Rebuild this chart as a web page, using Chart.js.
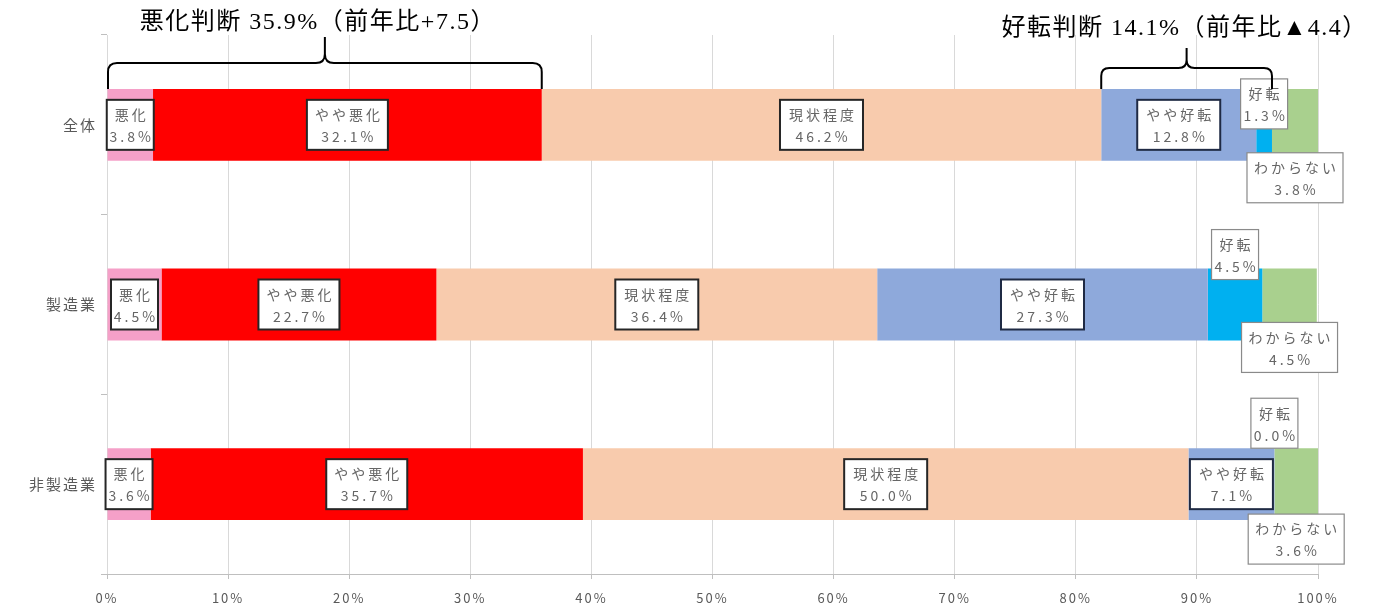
<!DOCTYPE html>
<html>
<head>
<meta charset="utf-8">
<script src="https://cdn.jsdelivr.net/npm/chart.js@4"></script>
<style>
body{margin:0;background:#fff}
#wrap{width:1381px;height:611px;position:relative}
</style>
</head>
<body>
<div id="wrap"><canvas id="chart"></canvas></div>
<script>
const categories=["全体","製造業","非製造業"]
const seriesNames=["悪化","やや悪化","現状程度","やや好転","好転","わからない"]
const akka=[3.8,4.5,3.6]
const yayaAkka=[32.1,22.7,35.7]
const genjo=[46.2,36.4,50.0]
const yayaKoten=[12.8,27.3,7.1]
const koten=[1.3,4.5,0.0]
const wakaranai=[3.8,4.5,3.6]
const xTickValues=[0,10,20,30,40,50,60,70,80,90,100]
const bracketTexts=["悪化判断 35.9%（前年比+7.5）","好転判断 14.1%（前年比▲4.4）"]

const series=[akka,yayaAkka,genjo,yayaKoten,koten,wakaranai]
const colors=["#F5A0C8","#FF0000","#F8CBAD","#8EA9DB","#00B0F0","#A9D08E"]

/* label box styles */
const boxW=[47,81,83,83,47,96]
const boxH=50
const boxBorder=["#262626","#262626","#262626","#1f2a44","#8a8a8a","#8a8a8a"]
const kotenOff=[15,-14,-25]
const wakaOff=[17,7,19]

const spacing={
id:"spacing",
beforeDraw(c){c.ctx.letterSpacing="2px"},
afterDraw(c){c.ctx.letterSpacing="0px"}
}

const boxLabels={
id:"boxLabels",
afterDatasetsDraw(c){
const ctx=c.ctx
ctx.save()
ctx.letterSpacing="3px"
ctx.font='14px "Noto Sans CJK JP"'
ctx.textAlign="center"
ctx.textBaseline="middle"
series.forEach((vals,i)=>{
const meta=c.getDatasetMeta(i)
meta.data.forEach((bar,j)=>{
const cx=(bar.x+bar.base)/2
let cy=bar.y
const top=bar.y-bar.height/2
const bottom=bar.y+bar.height/2
if(i===4) cy=top+kotenOff[j]
if(i===5) cy=bottom+wakaOff[j]
const w=boxW[i]
ctx.fillStyle="#fff"
ctx.fillRect(cx-w/2,cy-boxH/2,w,boxH)
ctx.strokeStyle=boxBorder[i]
ctx.lineWidth=i<4?2:1.2
ctx.strokeRect(cx-w/2,cy-boxH/2,w,boxH)
ctx.fillStyle="#666"
ctx.fillText(seriesNames[i],cx+1.5,cy-10)
ctx.fillText(vals[j].toFixed(1)+"%",cx+1.5,cy+12)
})
})
ctx.restore()
}
}

function brace(ctx,x1,x2,yEnd,yLine,yTip,r){
const xm=(x1+x2)/2
ctx.beginPath()
ctx.moveTo(x1,yEnd)
ctx.lineTo(x1,yLine+r)
ctx.quadraticCurveTo(x1,yLine,x1+r,yLine)
ctx.lineTo(xm-r,yLine)
ctx.quadraticCurveTo(xm,yLine,xm,yLine-r)
ctx.lineTo(xm,yTip)
ctx.moveTo(xm,yLine-r)
ctx.quadraticCurveTo(xm,yLine,xm+r,yLine)
ctx.lineTo(x2-r,yLine)
ctx.quadraticCurveTo(x2,yLine,x2,yLine+r)
ctx.lineTo(x2,yEnd)
ctx.stroke()
}

const braces={
id:"braces",
afterDraw(c){
const ctx=c.ctx
const x=c.scales.x
const badEnd=akka[0]+yayaAkka[0]
const goodStart=badEnd+genjo[0]
const goodEnd=goodStart+yayaKoten[0]+koten[0]
ctx.save()
ctx.strokeStyle="#000"
ctx.lineWidth=2
const a1=x.getPixelForValue(0)+1,a2=x.getPixelForValue(badEnd)
const b1=x.getPixelForValue(goodStart),b2=x.getPixelForValue(goodEnd)
brace(ctx,a1,a2,89,63,37,9)
brace(ctx,b1,b2,89,68,48,8)
ctx.fillStyle="#000"
ctx.letterSpacing="1.5px"
ctx.font='24px "Liberation Serif","Noto Sans CJK JP"'
ctx.textAlign="center"
ctx.textBaseline="middle"
ctx.fillText(bracketTexts[0],(a1+a2)/2-7,23)
ctx.fillText(bracketTexts[1],(b1+b2)/2-2,29)
ctx.restore()
}
}

new Chart(document.getElementById("chart"),{
type:"bar",
data:{
labels:categories,
datasets:series.map((vals,i)=>({
label:seriesNames[i],
data:vals,
backgroundColor:colors[i],
borderWidth:0,
barPercentage:0.4,
categoryPercentage:1
}))
},
options:{
indexAxis:"y",
responsive:true,
maintainAspectRatio:false,
animation:false,
layout:{padding:{top:35,right:63,left:0,bottom:0}},
plugins:{legend:{display:false},tooltip:{enabled:false}},
scales:{
x:{
stacked:true,
min:0,max:100,
afterBuildTicks(axis){axis.ticks=xTickValues.map(v=>({value:v}))},
afterFit(axis){axis.height=37},
grid:{color:"#d9d9d9",tickLength:5,tickColor:"#bfbfbf"},
border:{color:"#bfbfbf"},
ticks:{color:"#595959",font:{size:13,family:"Noto Sans CJK JP"},padding:11,callback:v=>v+"%",maxRotation:0}
},
y:{
stacked:true,
afterFit(axis){axis.width=107},
grid:{drawOnChartArea:false,tickLength:6,color:"#bfbfbf"},
border:{display:false},
ticks:{color:"#595959",font:{size:15,family:"Noto Sans CJK JP"},padding:4}
}
}
},
plugins:[spacing,boxLabels,braces]
})
</script>
</body>
</html>
